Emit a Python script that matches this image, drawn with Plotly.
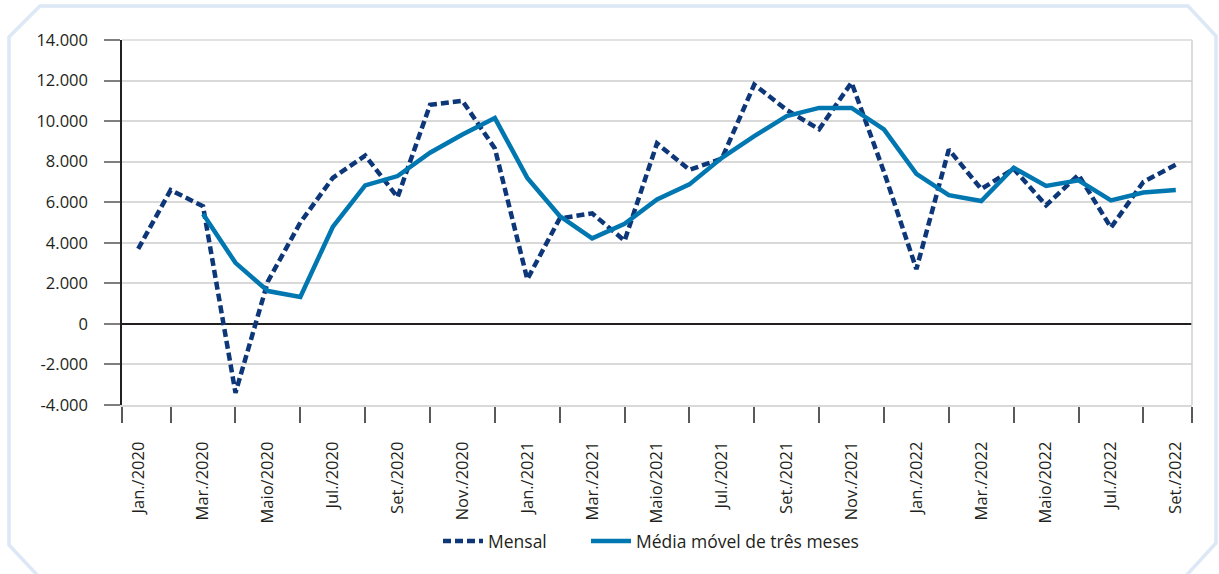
import plotly.graph_objects as go

# ---------------- data ----------------
months = ["Jan.", "Fev.", "Mar.", "Abr.", "Maio", "Jun.", "Jul.", "Ago.", "Set.", "Out.", "Nov.", "Dez."]
categories = [f"{m}/{y}" for y in (2020, 2021, 2022) for m in months][:33]

mensal = [3700, 6600, 5800, -3400, 2100, 5000, 7200, 8300, 6250, 10800, 11000, 8650,
          2200, 5200, 5450, 4100, 8900, 7600, 8150, 11800, 10550, 9600, 11900, 7500,
          2700, 8600, 6650, 7650, 5850, 7350, 4750, 7000, 7850]

media_movel = [None, None, 5420, 3010, 1620, 1330, 4780, 6830, 7290, 8440, 9340, 10150,
               7200, 5320, 4220, 4940, 6140, 6880, 8190, 9260, 10250, 10650, 10650, 9590,
               7400, 6350, 6060, 7700, 6800, 7080, 6090, 6480, 6600]

y_ticks = [-4000, -2000, 0, 2000, 4000, 6000, 8000, 10000, 12000, 14000]
y_tick_labels = ["-4.000", "-2.000", "0", "2.000", "4.000", "6.000", "8.000", "10.000", "12.000", "14.000"]

x_idx = list(range(len(categories)))
x_label_idx = x_idx[::2]
x_labels = [categories[i] for i in x_label_idx]

# ---------------- figure ----------------
W, H = 1219, 574
L, R, T, B = 122, 27, 40, 169
PW, PH = W - L - R, H - T - B


def px(xp):
    return (xp - L) / PW


def py(yp):
    return (H - B - yp) / PH


TXT = "#231f20"
FONT = "Open Sans"

fig = go.Figure()
fig.add_trace(go.Scatter(
    x=x_idx, y=mensal, mode="lines", name="Mensal", legend="legend",
    line=dict(color="#0d3778", width=4.5, dash="8px,4px"),
))
fig.add_trace(go.Scatter(
    x=x_idx, y=media_movel, mode="lines", name="Média móvel de três meses", legend="legend2",
    line=dict(color="#0077b0", width=4.5),
))

# octagonal frame
pts = [(9, 37), (40, 6), (1188, 6), (1216, 36), (1216, 543), (1184, 578), (40, 578), (9, 545)]
path = "M " + " L ".join(f"{px(a):.5f},{py(b):.5f}" for a, b in pts) + " Z"
shapes = [
    dict(type="path", xref="paper", yref="paper", path=path,
         line=dict(color="#dce8f5", width=3.5), layer="below"),
    dict(type="line", xref="paper", yref="paper", x0=1, x1=1, y0=0, y1=1,
         line=dict(color="#cfcfcf", width=1.5)),
    dict(type="line", xref="paper", yref="paper", x0=0, x1=1, y0=1, y1=1,
         line=dict(color="#d9d9d9", width=1.5)),
]

legend_common = dict(orientation="h", xanchor="left", y=py(541), yanchor="middle",
                     font=dict(family=FONT, size=17.5, color=TXT), itemwidth=40,
                     bgcolor="rgba(0,0,0,0)")

fig.update_layout(
    width=W, height=H, autosize=False,
    margin=dict(l=L, r=R, t=T, b=B, pad=0),
    paper_bgcolor="white", plot_bgcolor="white",
    font=dict(family=FONT, size=16, color=TXT),
    shapes=shapes,
    showlegend=True,
    legend=dict(x=px(438), **legend_common),
    legend2=dict(x=px(586), **legend_common),
    xaxis=dict(
        range=[-0.5, len(categories) - 0.5],
        tickmode="array", tickvals=x_label_idx, ticktext=x_labels,
        tickangle=-90, ticks="outside", ticklen=16, tickcolor="rgba(0,0,0,0)",
        ticklabelstandoff=12,
        tickfont=dict(family=FONT, size=16.5, color=TXT),
        showgrid=False, zeroline=False,
        showline=True, linecolor="#d9d9d9", linewidth=2,
        minor=dict(tickmode="array",
                   tickvals=[-0.5] + [i for i in x_idx if i % 2 == 1] + [len(categories) - 0.5],
                   ticks="outside", ticklen=16, tickwidth=1.5, tickcolor="#595959",
                   showgrid=False),
    ),
    yaxis=dict(
        range=[-4000, 14000],
        tickmode="array", tickvals=y_ticks, ticktext=y_tick_labels,
        ticks="outside", ticklen=16, tickwidth=1.5, tickcolor="#7f7f7f",
        ticklabelstandoff=13,
        tickfont=dict(family=FONT, size=16.5, color=TXT),
        showgrid=True, gridcolor="#d9d9d9", gridwidth=1.5,
        zeroline=True, zerolinecolor=TXT, zerolinewidth=1.5,
        showline=True, linecolor=TXT, linewidth=1.5,
    ),
)

fig.write_html("out.html", config={"displayModeBar": False},
               post_script="document.body.style.margin='0px';")
